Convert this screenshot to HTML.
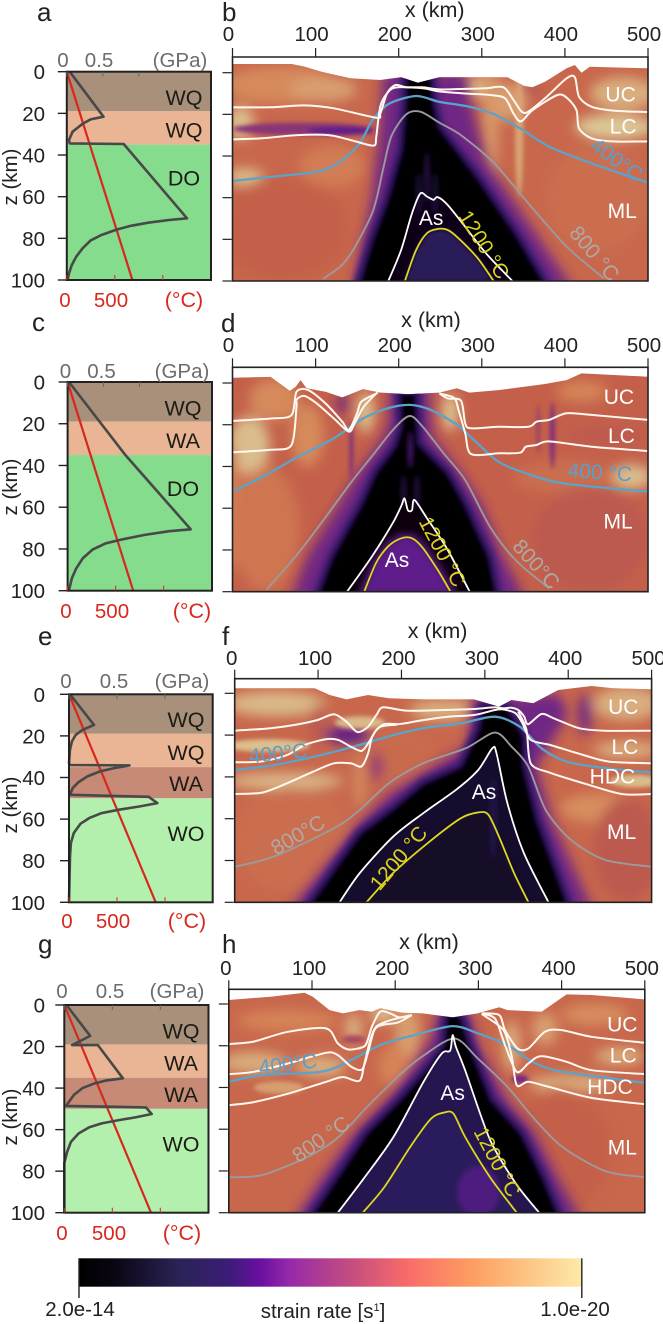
<!DOCTYPE html>
<html lang="en">
<head>
<meta charset="utf-8">
<title>Strain rate model panels</title>
<style>
html,body{margin:0;padding:0;background:#fff;width:663px;height:1324px;overflow:hidden}
svg{display:block;font-family:"Liberation Sans",Arial,sans-serif}
</style>
</head>
<body>
<svg id="figure" xmlns="http://www.w3.org/2000/svg" width="663" height="1324" viewBox="0 0 663 1324">
<defs>
<filter id="blur-lg" x="-30%" y="-30%" width="160%" height="160%"><feGaussianBlur stdDeviation="6"/></filter>
<filter id="blur-thin" x="-60%" y="-60%" width="220%" height="220%"><feGaussianBlur stdDeviation="2"/></filter>
<filter id="blur-md" x="-10%" y="-10%" width="120%" height="120%"><feGaussianBlur stdDeviation="2.6"/></filter>
<filter id="blur-sm" x="-10%" y="-10%" width="120%" height="120%"><feGaussianBlur stdDeviation="1"/></filter>
</defs>
</svg>
<script>
// ---------- shared tick labels ----------
const xTicks = [0, 100, 200, 300, 400, 500];
const zTicks = [0, 20, 40, 60, 80, 100];
const gpaTicks = [0, 0.5, 1];
const tempTicks = [0, 500, 1000];

// ---------- colour scale stops (strain level 0..1) ----------
const barLevels = [0, 0.07, 0.2, 0.3, 0.36, 0.42, 0.55, 0.65, 0.78, 1];
const barColors = ['#000000', '#0a0612', '#2b2357', '#3b1d78', '#6a0fa0', '#962aa8', '#c8507c', '#f86a6a', '#fd9d60', '#fdeaa8'];
const fieldLevels = [0, 0.12, 0.25, 0.36, 0.45, 0.55, 0.62, 0.72, 0.85, 1];
const fieldColors = ['#000000', '#120b24', '#2c1c5c', '#5a1a8c', '#7a2a80', '#a84a60', '#c4604a', '#d68456', '#d9ae7e', '#dccf9c'];

// ---------- left column: stress (GPa) vs depth (km) ----------
const stressA = [[0.04,0],[0.51,21.6],[0.33,22.9],[0.22,25],[0.08,28.8],[0.03,32.8],[0.04,34.4],[0.79,34.7],[1.67,70.4],[1.42,71.2],[1.13,72.5],[0.89,74],[0.69,75.8],[0.48,78.4],[0.33,81],[0.22,84.8],[0.13,88.8],[0.07,92.8],[0.03,96.8],[0.01,100]];
const stressC = [[0.02,0],[0.8,34.9],[1.71,70.6],[1.41,71.5],[1.06,73.3],[0.76,75.4],[0.53,77.3],[0.35,80.2],[0.21,84.5],[0.12,89.3],[0.06,94],[0.02,99.7]];
const stressE = [[0.01,0],[0.26,14.7],[0.14,17.1],[0.07,19.5],[0.03,22.7],[0.01,26.7],[0,33],[0.01,34],[0.63,34.2],[0.47,35.5],[0.32,37.1],[0.19,39.5],[0.1,42.2],[0.04,45],[0.01,48.3],[0.83,49.3],[0.92,52.3],[0.74,53.9],[0.52,55.5],[0.34,57.1],[0.21,59.5],[0.12,62.2],[0.05,66.7],[0.02,71.5],[0.01,78],[0,100]];
const stressG = [[0.03,0.5],[0.27,14.9],[0.08,19.3],[0.35,19.3],[0.61,35.3],[0.43,36.4],[0.3,38],[0.19,40],[0.1,43.3],[0.05,46.5],[0.02,48.6],[0.85,49.3],[0.91,52.5],[0.74,54.1],[0.57,55.4],[0.39,57],[0.26,58.9],[0.15,61.8],[0.07,65.8],[0.03,70.6],[0,76],[0,100]];
// geotherms (deg C, km)
const geothermA = [[0,0],[683,100]];
const geothermC = [[0,0],[683,100]];
const geothermE = [[0,0],[903,100]];
const geothermG = [[0,0],[903,100]];
// rheology layers: top km, bottom km, name, label depth
const layersA = [[0,19,'WQ',12.5],[19,35,'WQ',28],[35,100,'DO',51]];
const layersC = [[0,19,'WQ',12.5],[19,35,'WA',28],[35,100,'DO',51]];
const layersE = [[0,19,'WQ',12],[19,35,'WQ',28],[35,50,'WA',43],[50,100,'WO',67]];
const layersG = [[0,19,'WQ',12.5],[19,35,'WA',28],[35,50,'WA',43],[50,100,'WO',67]];

// ---------- panel b ----------
const topoB = [[0,-4.2],[71,-4.2],[86,-3],[107,-0.5],[142,2.7],[178,3.5],[203,2.2],[223,4.8],[249,2.2],[280,2.2],[331,2.2],[351,6.4],[361,7],[376,4.3],[402,-2.1],[412,-3.7],[420,0],[430,-2.9],[500,-2.1]];
const whiteB1 = [[0,16.6],[46,16.6],[86,15.7],[122,17.1],[173,21.6],[178,19.5],[186,9.9],[196,5.9],[209,7],[229,7],[249,8],[280,7.8],[305,7.5],[326,7],[338,13],[348,18.7],[356,18.7],[376,12.3],[402,2.7],[412,2.2],[417,11.5],[432,16.3],[458,18.2],[500,18.9]];
const whiteB2 = [[0,32],[36,31.5],[76,30],[117,30],[148,33],[170,35],[173,30.7],[178,16],[188,9],[199,7],[229,7.5],[249,9],[280,10],[310,10.7],[328,12.3],[338,19.5],[347,23.4],[361,18],[391,10.7],[403,12.3],[414,18],[417,26.7],[432,31.5],[458,33],[500,33]];
const blueB = [[0,52],[46,50],[102,47.5],[127,43.5],[153,34],[168,23],[188,15],[221,11.2],[249,14],[285,16.3],[315,20],[346,26.7],[381,35.5],[432,43.5],[500,52.8]];
const grayB = [[109,99],[137,90],[168,67.5],[181,46.7],[191,30.7],[209,20],[226,18.7],[249,24],[275,30],[315,43.5],[356,62.7],[402,83.5],[447,98.7]];
const asB = [[187,100.5],[203,85],[216,67.5],[226,58],[234,59.5],[242,61],[247,59.7],[259,63.5],[280,74],[305,86.7],[338,100.5]];
const yellowB = [[207,100.5],[221,85],[234,77],[247,75],[259,75.5],[272,79.5],[295,89],[315,100.5]];
const haloB = [[181,0],[177,29],[167,61],[145,104],[410,104],[365,77],[305,42],[285,11.5],[280,0]];
const blackB = [[207,2],[208,13],[203,37],[186,61],[168,80],[150,104],[381,104],[341,77],[295,50],[249,26],[242,13],[240,2]];
const patchesB = [[60,6,70,9,0.74],[110,8,40,6,0.8],[10,24,16,8,0.92],[85,27,85,3,0.48],[130,28,40,2,0.38],[15,50,22,4,0.93],[60,75,80,25,0.62],[300,7,25,5,0.88],[330,14,25,9,0.8],[310,25,10,30,0.78],[345,30,5,30,0.82],[460,26,48,6,0.97],[470,10,40,8,0.85],[360,8,8,5,0.58],[440,60,60,25,0.66],[120,45,40,10,0.7]];
const streaksB = [[234,50,2,12,0.3],[224,58,2,10,0.25],[244,58,2,10,0.25]];
const labelsB = [['UC',467,10.7,0,'w'],['LC',470,26,0,'w'],['400°C',462,42,36,'b'],['ML',469,66.7,0,'w'],['800 °C',435,87,50,'g'],['As',239,70,0,'w'],['1200 °C',302,82.7,58,'y']];

// ---------- panel d ----------
const topoD = [[0,-2.5],[46,-2.9],[56,0],[69,3.8],[76,1.8],[82,-1.4],[89,2.5],[112,4.2],[132,6.9],[157,2.9],[178,4.6],[211,5.4],[249,4.6],[270,2.5],[285,4.6],[320,3.4],[376,0.5],[402,-1.4],[420,-4.6],[500,-3]];
const whiteD1 = [[0,18.2],[46,17],[71,15.4],[77,4.2],[91,3.4],[112,9.8],[132,18.5],[140,22.5],[150,14.5],[155,9],[173,5],[175,4.5]];
const whiteD2 = [[0,33.2],[46,32],[71,29.7],[77,11.3],[77,8],[86,6.2],[101,9.7],[122,17],[140,23.3],[147,19.3],[158,11.3],[173,5]];
const whiteD3 = [[249,5],[259,7.4],[275,8.5],[280,19.3],[287,21.7],[320,21],[356,21],[366,18.5],[381,17.7],[402,14.5],[432,15.3],[500,17.7]];
const whiteD4 = [[249,5],[267,7.3],[272,13],[280,24],[287,34],[320,33.7],[346,33.4],[353,30.5],[366,29.7],[381,28],[432,30.5],[500,32.6]];
const blueD = [[0,52],[36,45],[76,36],[122,26.5],[157,17],[188,12],[214,10.5],[239,13],[270,20],[295,29],[320,37.7],[351,43],[397,48],[500,52]];
const grayD = [[41,99],[76,83],[107,67],[142,48],[168,35],[193,22.5],[213,15.8],[229,21],[254,33.7],[280,46.5],[310,69],[341,85],[381,98.4]];
const asD = [[137,100.5],[168,83],[193,67],[203,59],[207,55.3],[211,60.9],[216,60.9],[219,56],[234,64.8],[259,80],[286,100.5]];
const yellowD = [[158,100.5],[173,86],[188,78],[203,74.4],[216,74.4],[229,79],[247,89.6],[263,100.5]];
const haloD = [[190,0],[188,20],[178,28],[150,43],[125,60],[90,83],[70,104],[353,104],[325,83],[300,58],[275,43],[240,25],[236,0]];
const blackD = [[201,5],[203,21],[196,30],[172,43],[155,58],[120,83],[100,104],[320,104],[309,83],[280,58],[259,43],[224,29],[221,5]];
const patchesD = [[20,30,25,14,0.92],[50,8,30,10,0.74],[90,25,20,15,0.74],[160,14,10,10,0.95],[262,14,10,9,0.95],[0,60,10,30,0.7],[450,25,50,4,0.6],[480,45,25,6,0.92],[420,4,30,5,0.72],[400,45,60,8,0.66],[40,70,40,30,0.68],[430,75,70,25,0.6],[143,32,2,14,0.42],[385,25,3,16,0.45],[368,22,2,12,0.5],[132,10,6,5,0.38]];
const streaksD = [[214,32,2.5,9,0.36],[206,52,2,8,0.28],[222,52,2,8,0.28]];
const labelsD = [['UC',465,7,0,'w'],['LC',468,25.7,0,'w'],['400 °C',442,43,4,'b'],['ML',464,66.5,0,'w'],['800°C',365,87,48,'g'],['As',198,85,0,'w'],['1200 °C',252,81,62,'y']];

// ---------- panel f ----------
const topoF = [[0,-2.4],[96,-2.4],[114,0.8],[134,2.9],[160,0.8],[185,2.4],[226,2.9],[287,2.9],[317,6.4],[332,3.2],[358,4.8],[388,-1.6],[428,-3.5],[454,-2.4],[500,-1.9]];
const whiteF1 = [[0,17.9],[43,16.7],[74,15],[99,12.8],[119,10],[134,13.6],[147,18.5],[160,16],[170,10.4],[178,6.7],[206,8.3],[251,8],[287,7.5],[312,6.7],[322,7.2],[332,6.9],[340,8],[347,11],[352,14.8],[368,9.9],[383,12],[413,16.7],[444,17.9],[500,17.9]];
const whiteF2 = [[0,33],[33,32.6],[63,29.5],[84,24.7],[109,22],[124,22.3],[139,25.5],[152,27.6],[160,24],[170,17.5],[180,14.7],[198,14.7],[226,12.8],[256,11.2],[287,10.4],[312,8],[322,7.7],[337,9.6],[345,14.3],[355,22.3],[378,24.7],[418,29.5],[449,32.7],[500,33.5]];
const whiteF3 = [[0,48.2],[33,47.5],[63,43],[94,37.5],[119,33.5],[139,33.5],[152,35],[160,28.7],[165,20.7],[175,16],[195,15]];
const whiteF4 = [[340,8.8],[350,17.5],[355,33.5],[378,38],[418,43],[464,48.2],[500,48.2]];
const blueF = [[0,36.7],[48,34.3],[104,29.5],[150,24.7],[190,20],[226,16.7],[271,14.4],[312,11.2],[342,16],[368,26.3],[398,32.7],[449,36],[500,37.8]];
const grayF = [[0,83],[48,78],[119,64.6],[150,55.8],[185,43],[226,33.5],[277,26.3],[312,18.8],[332,25.5],[352,35],[373,55.8],[403,70],[444,79.7],[500,83]];
const asF = [[125,100.5],[150,86],[190,68.6],[226,57.4],[266,46],[292,36.7],[309,26.3],[314,28.7],[327,52.6],[347,76.6],[377,100.5]];
const yellowF = [[157,100.5],[190,86],[231,71.8],[271,59.8],[292,57],[304,58],[317,68.6],[335,86],[353,100.5]];
const haloF = [[285,2],[280,25],[226,38],[185,48],[150,62],[65,104],[430,104],[380,60],[362,35],[385,20],[400,10],[388,0],[330,2]];
const blackF = [[297,6],[292,17.5],[271,35],[226,43],[190,55],[150,67],[84,104],[403,104],[363,60.6],[347,35],[347,20.7],[327,6.7]];
const patchesF = [[50,5,60,6,0.9],[40,25,50,3,0.93],[60,42,70,4,0.9],[100,15,10,10,0.6],[150,14,30,3,0.9],[250,8,40,5,0.85],[150,42,6,14,0.76],[470,5,40,8,0.85],[470,27,40,4,0.85],[480,42,30,3,0.92],[440,55,50,7,0.75],[470,75,40,25,0.6],[70,70,70,25,0.66],[200,30,40,15,0.65],[135,20,28,4,0.36],[170,35,8,7,0.5],[420,10,8,10,0.42]];
const streaksF = [[310,60,4,20,0.2]];
const labelsF = [['UC',466,6.7,0,'w'],['LC',468,26,0,'w'],['HDC',453,40,0,'w'],['ML',464,66.5,0,'w'],['400°C',52,29,-6,'b'],['800°C',76,68,-30,'g'],['As',299,47.5,0,'w'],['1200 °C',197,79,-50,'y']];

// ---------- panel h ----------
const topoH = [[0,-1.9],[50,-3.5],[91,-5.4],[101,-3.5],[121,2.9],[137,4.5],[157,2.9],[172,3.7],[182,2],[208,4.2],[233,4.5],[269,6.4],[299,4.5],[325,1.6],[335,2.9],[376,3.7],[406,-4.6],[436,-4.3],[500,-2.2]];
const whiteH1 = [[0,19.2],[30,18],[71,13.3],[117,11.7],[131,18.9],[144,21.8],[162,20.5],[167,17.3],[172,10.9],[182,3.7],[194,4.5],[205,6.4],[220,5.3]];
const whiteH2 = [[0,33.6],[30,32.5],[71,28.5],[117,23.4],[131,24.5],[147,30],[160,31.4],[167,23.7],[175,12.5],[185,10],[203,8.9],[220,5.3]];
const whiteH3 = [[0,48.5],[30,47],[71,43],[117,37.3],[137,35],[157,36.8],[163,28.5],[170,17.3],[177,10.9],[195,7.7],[220,5.3]];
const whiteH4 = [[304,4.5],[325,5.3],[332,12.5],[347,21.3],[360,21.3],[380,13.3],[400,12.5],[436,15.7],[500,18.6]];
const whiteH5 = [[304,4.8],[320,7],[332,19.7],[346,32.5],[360,28.5],[375,25],[406,27.7],[436,31.7],[500,33.6]];
const whiteH6 = [[304,4.8],[330,12.5],[340,25],[346,38.9],[360,37.3],[385,39.7],[436,45],[500,48]];
const blueH = [[0,37.3],[40,34],[111,32.5],[147,26.9],[182,19.7],[223,14.9],[269,10.6],[299,14],[335,19.7],[365,27.7],[401,32.5],[500,37.8]];
const grayH = [[0,83],[40,82],[96,73],[131,64],[167,49],[208,33],[233,25],[271,16.5],[299,26],[335,39.7],[365,54],[401,68.5],[452,80],[500,83]];
const asH = [[130,100.5],[162,83.7],[198,63.7],[233,38],[256,23.7],[266,22.4],[269,14.9],[273,20.5],[284,31.7],[314,65],[345,86],[374,100.5]];
const yellowH = [[160,100.5],[187,87.7],[218,68.5],[243,55],[259,52],[270,52.5],[284,63.7],[314,83],[347,100.5]];
const haloH = [[250,4],[245,15],[225,28],[190,46],[150,62],[112,83],[78,104],[425,104],[395,83],[368,62],[335,46],[300,20],[290,4]];
const blackH = [[262,4],[258,20],[240,30],[205,46],[165,62],[130,83],[95,104],[400,104],[378,83],[352,62],[316,46],[289,19],[279,6]];
const patchesH = [[30,28,40,5,0.85],[70,8,60,5,0.72],[110,30,30,5,0.85],[60,40,30,3,0.8],[150,12,10,8,0.85],[185,5,15,4,0.95],[215,15,15,14,0.8],[200,30,20,10,0.72],[150,17,14,2,0.55],[340,20,10,12,0.85],[380,12,15,8,0.8],[410,38,50,4,0.85],[400,45,30,6,0.8],[350,36,10,2,0.42],[470,25,30,4,0.85],[440,5,40,5,0.75],[400,70,60,30,0.62]];
const streaksH = [[300,90,25,12,0.33]];
const labelsH = [['UC',473,10,0,'w'],['LC',474,25,0,'w'],['HDC',458,40,0,'w'],['ML',473,69,0,'w'],['400°C',71,29,-7,'b'],['800 °C',111,65,-35,'g'],['As',269,43,0,'w'],['1200 °C',322,75.7,62,'y']];

// ---------- layout (not data) ----------
const FS = 20.5;
const leftPanels = [
 {letter:'a',lx:37,ly:21,x0:66.8,x1:211,y0:71.7,y1:280,gpaPx:72,tPx:96,stress:stressA,geo:geothermA,layers:layersA,colors:['#a8907a','#e9b594','#84dc8c'],gy:67,g0:63,g5:99,gu:180,ty:307,t0:65,t5:111,tu:184,zx:10,zc:177,layerX:184},
 {letter:'c',lx:32,ly:331,x0:67.6,x1:212,y0:382,y1:590.7,gpaPx:72,tPx:96,stress:stressC,geo:geothermC,layers:layersC,colors:['#a8907a','#e9b594','#84dc8c'],gy:378,g0:65.5,g5:101.5,gu:182,ty:618,t0:66,t5:112,tu:192,zx:10,zc:487,layerX:183},
 {letter:'e',lx:38,ly:645,x0:69,x1:212.7,y0:694.3,y1:902.3,gpaPx:96,tPx:96,stress:stressE,geo:geothermE,layers:layersE,colors:['#a8907a','#e9b594','#c68a76','#b3f0ad'],gy:688,g0:66,g5:114,gu:182,ty:928,t0:67,t5:113,tu:187,zx:10,zc:805,layerX:186},
 {letter:'g',lx:38,ly:953,x0:64.3,x1:208.5,y0:1005,y1:1212.7,gpaPx:96,tPx:96,stress:stressG,geo:geothermG,layers:layersG,colors:['#a8907a','#e9b594','#c68a76','#b3f0ad'],gy:998,g0:62,g5:110,gu:177,ty:1240,t0:62,t5:109,tu:182,zx:10,zc:1117,layerX:181}
];
const rightPanels = [
 {letter:'b',lx:222,ly:21,x0:232.5,x1:648,top:57,y0:72.7,y1:281,titleX:434.7,titleY:17,tickY:41,off:-4,topo:topoB,whites:[whiteB1,whiteB2],blue:blueB,gray:grayB,as:asB,yellow:yellowB,halo:haloB,black:blackB,patches:patchesB,streaks:streaksB,labels:labelsB,base:0.64,asLevel:0.06,coreLevel:0.24,glow:0},
 {letter:'d',lx:221,ly:332,x0:232.5,x1:648,top:367.3,y0:383,y1:591.7,titleX:431,titleY:327,tickY:352,off:-4,topo:topoD,whites:[whiteD1,whiteD2,whiteD3,whiteD4],blue:blueD,gray:grayD,as:asD,yellow:yellowD,halo:haloD,black:blackD,patches:patchesD,streaks:streaksD,labels:labelsD,base:0.62,asLevel:0.05,coreLevel:0.37,glow:12},
 {letter:'f',lx:222,ly:645,x0:234.7,x1:651.6,top:678.7,y0:693.3,y1:902.3,titleX:437.6,titleY:638,tickY:665,off:-3,topo:topoF,whites:[whiteF1,whiteF2,whiteF3,whiteF4],blue:blueF,gray:grayF,as:asF,yellow:yellowF,halo:haloF,black:blackF,patches:patchesF,streaks:streaksF,labels:labelsF,base:0.64,asLevel:0.14,coreLevel:0.13,glow:0},
 {letter:'h',lx:222,ly:953,x0:228.8,x1:644.8,top:989.3,y0:1004,y1:1212.7,titleX:429,titleY:949,tickY:975,off:-3,topo:topoH,whites:[whiteH1,whiteH2,whiteH3,whiteH4,whiteH5,whiteH6],blue:blueH,gray:grayH,as:asH,yellow:yellowH,halo:haloH,black:blackH,patches:patchesH,streaks:streaksH,labels:labelsH,base:0.64,asLevel:0.22,coreLevel:0.25,glow:0}
];
const labelColors = {w:'#ffffff', b:'#5a9fcb', g:'#b0a8a4', y:'#d8d41e'};

// ---------- helpers ----------
const NS = 'http://www.w3.org/2000/svg';
const root = document.getElementById('figure');
function mk(tag, attrs, parent) {
  const el = document.createElementNS(NS, tag);
  for (const k in attrs) el.setAttribute(k, attrs[k]);
  (parent || root).appendChild(el);
  return el;
}
function txt(str, x, y, size, fill, anchor, parent) {
  const t = mk('text', {x: x, y: y, 'font-size': size, fill: fill, 'text-anchor': anchor || 'middle'}, parent);
  t.textContent = str;
  return t;
}
function hex2(h) { return [1,3,5].map(i => parseInt(h.substr(i,2),16)); }
function colorOf(v, levels, colors) {
  if (v <= levels[0]) return colors[0];
  for (let i = 1; i < levels.length; i++) {
    if (v <= levels[i]) {
      const f = (v - levels[i-1]) / (levels[i] - levels[i-1]);
      const a = hex2(colors[i-1]), b = hex2(colors[i]);
      return 'rgb(' + a.map((c,j) => Math.round(c + (b[j]-c)*f)).join(',') + ')';
    }
  }
  return colors[colors.length-1];
}
const fieldColor = v => colorOf(v, fieldLevels, fieldColors);
const pathOf = (pts, sx, sy, close) => pts.map((p,i) => (i ? 'L' : 'M') + sx(p[0]).toFixed(1) + ' ' + sy(p[1]).toFixed(1)).join('') + (close ? 'Z' : '');
function smoothOf(pts, sx, sy) {
  const q = pts.map(p => [sx(p[0]), sy(p[1])]);
  const k = 1 / 7;
  let d = 'M' + q[0][0].toFixed(1) + ' ' + q[0][1].toFixed(1);
  for (let i = 0; i < q.length - 1; i++) {
    const p0 = q[Math.max(0, i - 1)], p1 = q[i], p2 = q[i + 1], p3 = q[Math.min(q.length - 1, i + 2)];
    d += 'C' + (p1[0] + (p2[0] - p0[0]) * k).toFixed(1) + ' ' + (p1[1] + (p2[1] - p0[1]) * k).toFixed(1) + ' ' +
         (p2[0] - (p3[0] - p1[0]) * k).toFixed(1) + ' ' + (p2[1] - (p3[1] - p1[1]) * k).toFixed(1) + ' ' +
         p2[0].toFixed(1) + ' ' + p2[1].toFixed(1);
  }
  return d;
}

// ---------- left column ----------
leftPanels.forEach(P => {
  const sz = z => P.y0 + (P.y1 - P.y0) * z / 100;
  const sg = g => P.x0 + g * P.gpaPx;
  const sT = t => P.x0 + t * P.tPx / 1000;
  const g = mk('g', {});
  
  

  const letter = txt(P.letter, P.lx, P.ly, 26, '#222', 'start', g);
  
  

  P.layers.forEach((L, i) => {
    const r = mk('rect', {x: P.x0, y: sz(L[0]), width: P.x1 - P.x0, height: sz(L[1]) - sz(L[0]), fill: P.colors[i]}, g);
    
    
    const t = txt(L[2], P.layerX, sz(L[3]) + 7.5, 21.5, '#1c1c16', 'middle', g);
    
    
  });

  const geo = mk('path', {d: pathOf(P.geo, sT, sz), fill: 'none', stroke: '#d8281e', 'stroke-width': 2.2}, g);
  
  

  const stress = mk('path', {d: pathOf(P.stress, sg, sz), fill: 'none', stroke: '#484848', 'stroke-width': 2.6, 'stroke-linejoin': 'round'}, g);
  
  

  const frame = mk('rect', {x: P.x0, y: P.y0, width: P.x1 - P.x0, height: P.y1 - P.y0, fill: 'none', stroke: '#222', 'stroke-width': 2}, g);
  
  

  zTicks.forEach(v => {
    const tk = mk('line', {x1: P.x0 - 9, x2: P.x0, y1: sz(v), y2: sz(v), stroke: '#222', 'stroke-width': 1.4}, g);
    
    
    const lb = txt(String(v), 45, sz(v) + 7.5, FS, '#222', 'end', g);
    
    
  });
  gpaTicks.forEach(v => {
    const tk = mk('line', {x1: sg(v), x2: sg(v), y1: P.y0, y2: P.y0 + 5, stroke: '#666', 'stroke-width': 1}, g);
    
    
  });
  tempTicks.forEach(v => {
    const tk = mk('line', {x1: sT(v), x2: sT(v), y1: P.y1 - 5, y2: P.y1, stroke: '#d8281e', 'stroke-width': 1}, g);
    
    
  });
  const a1 = txt('0', P.g0, P.gy, FS, '#6c6c6c', 'middle', g);
  
  
  const a2 = txt('0.5', P.g5, P.gy, FS, '#6c6c6c', 'middle', g);
  
  
  const a3 = txt('(GPa)', P.gu, P.gy, FS, '#6c6c6c', 'middle', g);
  
  
  const b1 = txt('0', P.t0, P.ty, FS, '#d8281e', 'middle', g);
  
  
  const b2 = txt('500', P.t5, P.ty, FS, '#d8281e', 'middle', g);
  
  
  const b3 = txt('(°C)', P.tu, P.ty, FS + 1, '#d8281e', 'middle', g);
  
  
  const zt = txt('z (km)', 0, 0, FS, '#222', 'middle', g);
  zt.setAttribute('transform', 'translate(' + (P.zx + 7) + ' ' + P.zc + ') rotate(-90)');
  
  
});

// ---------- right column ----------
rightPanels.forEach((P, idx) => {
  const sx = x => P.x0 + (P.x1 - P.x0) * x / 500;
  const sz = z => P.y0 + (P.y1 - P.y0) * z / 100;
  const g = mk('g', {});
  
  

  const letter = txt(P.letter, P.lx, P.ly, 26, '#222', 'start', g);
  
  

  const clip = mk('clipPath', {id: 'clip-' + idx}, root.querySelector('defs'));
  const outline = P.topo.concat([[500, 100], [0, 100]]);
  mk('path', {d: pathOf(outline, sx, sz, true)}, clip);

  const field = mk('g', {'clip-path': 'url(#clip-' + idx + ')'}, g);
  
  

  const base = mk('rect', {x: P.x0, y: P.top, width: P.x1 - P.x0, height: P.y1 - P.top, fill: fieldColor(P.base)}, field);
  
  

  const soft = mk('g', {filter: 'url(#blur-lg)'}, field);
  const thin = mk('g', {filter: 'url(#blur-thin)'}, field);
  P.patches.forEach(d => {
    const holder = (d[2] <= 5 || d[3] <= 3) ? thin : soft;
    const e = mk('ellipse', {cx: sx(d[0]), cy: sz(d[1]), rx: (P.x1 - P.x0) * d[2] / 500, ry: (P.y1 - P.y0) * d[3] / 100, fill: fieldColor(d[4])}, holder);
    
    
  });

  const haloGroup = mk('g', {filter: 'url(#blur-lg)'}, field);
  const halo = mk('path', {d: pathOf(P.halo, sx, sz, true), fill: fieldColor(0.42)}, haloGroup);
  
  

  const blackGroup = mk('g', {filter: 'url(#blur-md)'}, field);
  const edge = mk('path', {d: pathOf(P.black, sx, sz, true), fill: 'none', stroke: fieldColor(0.3), 'stroke-width': 11, 'stroke-linejoin': 'round'}, blackGroup);
  
  
  const black = mk('path', {d: pathOf(P.black, sx, sz, true), fill: fieldColor(0)}, blackGroup);
  
  

  const innerGroup = mk('g', {filter: 'url(#blur-sm)'}, field);
  const inner = mk('path', {d: pathOf(P.as, sx, sz, true), fill: fieldColor(P.asLevel)}, innerGroup);
  
  
  const coreGroup = mk('g', {filter: 'url(#blur-md)'}, field);
  const core = mk('path', {d: pathOf(P.yellow, sx, sz, true), fill: fieldColor(P.coreLevel), stroke: fieldColor(P.coreLevel), 'stroke-width': P.glow, 'stroke-linejoin': 'round', 'stroke-opacity': 0.6}, coreGroup);
  
  
  P.streaks.forEach(d => {
    const e = mk('ellipse', {cx: sx(d[0]), cy: sz(d[1]), rx: (P.x1 - P.x0) * d[2] / 500, ry: (P.y1 - P.y0) * d[3] / 100, fill: fieldColor(d[4])}, coreGroup);
    
    
  });

  const blue = mk('path', {d: smoothOf(P.blue, sx, sz), fill: 'none', stroke: '#5ba3c9', 'stroke-width': 2.3, 'stroke-linejoin': 'round'}, field);
  
  
  const gray = mk('path', {d: smoothOf(P.gray, sx, sz), fill: 'none', stroke: '#9c9a9c', 'stroke-width': 1.9, 'stroke-linejoin': 'round'}, field);
  
  
  const yellow = mk('path', {d: smoothOf(P.yellow, sx, sz), fill: 'none', stroke: '#dcd820', 'stroke-width': 1.8, 'stroke-linejoin': 'round'}, field);
  
  
  const asLine = mk('path', {d: smoothOf(P.as, sx, sz), fill: 'none', stroke: '#fff', 'stroke-width': 1.8, 'stroke-linejoin': 'round'}, field);
  
  
  P.whites.forEach(w => {
    const l = mk('path', {d: smoothOf(w, sx, sz), fill: 'none', stroke: '#fff8f0', 'stroke-width': 2, 'stroke-linejoin': 'round'}, field);
    
    
  });

  const frame = mk('path', {d: 'M' + P.x0 + ' ' + P.y1 + 'V' + P.top + 'H' + P.x1 + 'V' + P.y1 + 'Z', fill: 'none', stroke: '#222', 'stroke-width': 1.6}, g);
  
  

  xTicks.forEach(v => {
    const tk = mk('line', {x1: sx(v), x2: sx(v), y1: P.top - 9, y2: P.top, stroke: '#222', 'stroke-width': 1.2}, g);
    
    
    const lb = txt(String(v), sx(v) + P.off, P.tickY, FS, '#222', 'middle', g);
    
    
  });
  zTicks.forEach(v => {
    const tk = mk('line', {x1: P.x0 - 10, x2: P.x0 - 1, y1: sz(v), y2: sz(v), stroke: '#222', 'stroke-width': 1.2}, g);
    
    
  });
  const title = txt('x (km)', P.titleX, P.titleY, FS + 1, '#222', 'middle', g);
  
  

  P.labels.forEach(L => {
    const t = txt(L[0], 0, 0, 21, labelColors[L[4]], 'middle', g);
    t.setAttribute('transform', 'translate(' + sx(L[1]).toFixed(1) + ' ' + sz(L[2]).toFixed(1) + ') rotate(' + L[3] + ')');
    t.setAttribute('dominant-baseline', 'central');
    
    
  });
});

// ---------- colour bar ----------
const cb = {x0: 79, x1: 581.8, y0: 1258.3, y1: 1286.7, tickEnd: 1298};
const bar = mk('g', {});


const grad = mk('linearGradient', {id: 'cbar-grad', x1: 0, x2: 1, y1: 0, y2: 0}, root.querySelector('defs'));
barLevels.forEach((v, i) => {
  mk('stop', {offset: v, 'stop-color': barColors[i]}, grad);
});
const barRect = mk('rect', {x: cb.x0, y: cb.y0, width: cb.x1 - cb.x0, height: cb.y1 - cb.y0, fill: 'url(#cbar-grad)'}, bar);


const tickL = mk('line', {x1: cb.x0, x2: cb.x0, y1: cb.y0, y2: cb.tickEnd, stroke: '#222', 'stroke-width': 1.4}, bar);


const tickR = mk('line', {x1: cb.x1, x2: cb.x1, y1: cb.y0, y2: cb.tickEnd, stroke: '#222', 'stroke-width': 1.4}, bar);


const cbMin = txt('2.0e-14', 80, 1316, FS, '#222', 'middle', bar);


const cbMax = txt('1.0e-20', 575, 1316, FS, '#222', 'middle', bar);


const cbTitle = txt('strain rate [s', 323, 1318, FS, '#222', 'middle', bar);


const sup = mk('tspan', {dy: -7, 'font-size': 11}, cbTitle);
sup.textContent = '1';
const close = mk('tspan', {dy: 7}, cbTitle);
close.textContent = ']';
</script>
</body>
</html>
